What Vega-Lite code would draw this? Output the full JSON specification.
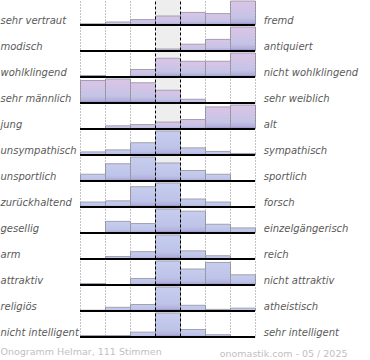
{
  "$schema": "https://vega.github.io/schema/vega-lite/v6.json",
  "padding": 0,
  "background": "white",
  "datasets": {
    "labels": [
      {"r": 1, "left": "sehr vertraut", "right": "fremd"},
      {"r": 2, "left": "modisch", "right": "antiquiert"},
      {"r": 3, "left": "wohlklingend", "right": "nicht wohlklingend"},
      {"r": 4, "left": "sehr männlich", "right": "sehr weiblich"},
      {"r": 5, "left": "\u00a0jung", "right": "alt"},
      {"r": 6, "left": "unsympathisch", "right": "sympathisch"},
      {"r": 7, "left": "unsportlich", "right": "sportlich"},
      {"r": 8, "left": "zurückhaltend", "right": "forsch"},
      {"r": 9, "left": "gesellig", "right": "einzelgängerisch"},
      {"r": 10, "left": "arm", "right": "reich"},
      {"r": 11, "left": "attraktiv", "right": "nicht attraktiv"},
      {"r": 12, "left": "religiös", "right": "atheistisch"},
      {"r": 13, "left": "nicht intelligent", "right": "sehr intelligent"}
    ]
  },
  "data": {
    "values": [
      {"r": 1, "c": 1, "n": 2}, {"r": 1, "c": 2, "n": 5}, {"r": 1, "c": 3, "n": 9}, {"r": 1, "c": 4, "n": 15}, {"r": 1, "c": 5, "n": 21}, {"r": 1, "c": 6, "n": 19}, {"r": 1, "c": 7, "n": 40},
      {"r": 2, "c": 1, "n": 0}, {"r": 2, "c": 2, "n": 0}, {"r": 2, "c": 3, "n": 0}, {"r": 2, "c": 4, "n": 5}, {"r": 2, "c": 5, "n": 17}, {"r": 2, "c": 6, "n": 29}, {"r": 2, "c": 7, "n": 60},
      {"r": 3, "c": 1, "n": 2}, {"r": 3, "c": 2, "n": 0}, {"r": 3, "c": 3, "n": 10}, {"r": 3, "c": 4, "n": 25}, {"r": 3, "c": 5, "n": 21}, {"r": 3, "c": 6, "n": 21}, {"r": 3, "c": 7, "n": 32},
      {"r": 4, "c": 1, "n": 30}, {"r": 4, "c": 2, "n": 32}, {"r": 4, "c": 3, "n": 27}, {"r": 4, "c": 4, "n": 17}, {"r": 4, "c": 5, "n": 5}, {"r": 4, "c": 6, "n": 0}, {"r": 4, "c": 7, "n": 0},
      {"r": 5, "c": 1, "n": 0}, {"r": 5, "c": 2, "n": 5}, {"r": 5, "c": 3, "n": 7}, {"r": 5, "c": 4, "n": 11}, {"r": 5, "c": 5, "n": 15}, {"r": 5, "c": 6, "n": 35}, {"r": 5, "c": 7, "n": 38},
      {"r": 6, "c": 1, "n": 6}, {"r": 6, "c": 2, "n": 10}, {"r": 6, "c": 3, "n": 24}, {"r": 6, "c": 4, "n": 47}, {"r": 6, "c": 5, "n": 14}, {"r": 6, "c": 6, "n": 7}, {"r": 6, "c": 7, "n": 3},
      {"r": 7, "c": 1, "n": 9}, {"r": 7, "c": 2, "n": 23}, {"r": 7, "c": 3, "n": 32}, {"r": 7, "c": 4, "n": 24}, {"r": 7, "c": 5, "n": 14}, {"r": 7, "c": 6, "n": 9}, {"r": 7, "c": 7, "n": 0},
      {"r": 8, "c": 1, "n": 8}, {"r": 8, "c": 2, "n": 10}, {"r": 8, "c": 3, "n": 33}, {"r": 8, "c": 4, "n": 39}, {"r": 8, "c": 5, "n": 13}, {"r": 8, "c": 6, "n": 8}, {"r": 8, "c": 7, "n": 0},
      {"r": 9, "c": 1, "n": 0}, {"r": 9, "c": 2, "n": 16}, {"r": 9, "c": 3, "n": 13}, {"r": 9, "c": 4, "n": 33}, {"r": 9, "c": 5, "n": 30}, {"r": 9, "c": 6, "n": 12}, {"r": 9, "c": 7, "n": 7},
      {"r": 10, "c": 1, "n": 0}, {"r": 10, "c": 2, "n": 6}, {"r": 10, "c": 3, "n": 18}, {"r": 10, "c": 4, "n": 59}, {"r": 10, "c": 5, "n": 20}, {"r": 10, "c": 6, "n": 8}, {"r": 10, "c": 7, "n": 0},
      {"r": 11, "c": 1, "n": 2}, {"r": 11, "c": 2, "n": 0}, {"r": 11, "c": 3, "n": 9}, {"r": 11, "c": 4, "n": 33}, {"r": 11, "c": 5, "n": 22}, {"r": 11, "c": 6, "n": 31}, {"r": 11, "c": 7, "n": 14},
      {"r": 12, "c": 1, "n": 2}, {"r": 12, "c": 2, "n": 9}, {"r": 12, "c": 3, "n": 16}, {"r": 12, "c": 4, "n": 59}, {"r": 12, "c": 5, "n": 14}, {"r": 12, "c": 6, "n": 4}, {"r": 12, "c": 7, "n": 7},
      {"r": 13, "c": 1, "n": 4}, {"r": 13, "c": 2, "n": 4}, {"r": 13, "c": 3, "n": 13}, {"r": 13, "c": 4, "n": 64}, {"r": 13, "c": 5, "n": 20}, {"r": 13, "c": 6, "n": 6}, {"r": 13, "c": 7, "n": 0}
    ]
  },
  "transform": [
    {"lookup": "r", "from": {"data": {"name": "labels"}, "key": "r", "fields": ["left", "right"]}}
  ],
  "title": {
    "text": "Onogramm Helmar, 111 Stimmen",
    "orient": "bottom",
    "anchor": "start",
    "frame": "bounds",
    "font": "DejaVu Sans",
    "fontSize": 9.5,
    "fontWeight": "normal",
    "color": "#c0c0c0",
    "baseline": "alphabetic",
    "offset": 0,
    "dy": -3
  },
  "facet": {"row": {"field": "r", "type": "ordinal", "header": null}},
  "spacing": 0,
  "resolve": {"scale": {"y": "independent"}},
  "spec": {
    "width": 175,
    "height": 26,
    "layer": [
      {
        "transform": [{"filter": "datum.c == 4"}],
        "mark": {"type": "rect", "fill": "#eeeeee"},
        "encoding": {
          "x": {"field": "c", "type": "quantitative", "bin": {"extent": [0.5, 7.5], "step": 1, "anchor": 0.5, "nice": false}, "scale": {"domain": [0.5, 7.5]}}
        }
      },
      {
        "mark": {"type": "bar", "binSpacing": 0, "stroke": "#a0a0b0", "strokeWidth": 1},
        "encoding": {
          "x": {
            "field": "c", "type": "quantitative",
            "bin": {"extent": [0.5, 7.5], "step": 1, "anchor": 0.5, "nice": false},
            "scale": {"domain": [0.5, 7.5]},
            "axis": {
              "values": [0.5, 1.5, 2.5, 3.5, 4.5, 5.5, 6.5, 7.5],
              "grid": true,
              "gridColor": {"condition": {"test": "datum.value == 3.5 || datum.value == 4.5", "value": "#000000"}, "value": "#888888"},
              "gridDash": {"condition": {"test": "datum.value == 3.5 || datum.value == 4.5", "value": [3, 2]}, "value": [1, 2]},
              "gridWidth": 1,
              "labels": false,
              "ticks": false,
              "domain": false,
              "zindex": 1,
              "title": "onomastik.com - 05 / 2025",
              "titleFont": "DejaVu Sans",
              "titleFontSize": 9.5,
              "titleFontWeight": "normal",
              "titleColor": "#c0c0c0",
              "titleX": 267,
              "titleY": 18,
              "titleAlign": "right",
              "titleBaseline": "alphabetic"
            }
          },
          "y": {"field": "n", "type": "quantitative", "axis": null, "scale": {"nice": false, "range": [25, 1]}},
          "fill": {
            "condition": {
              "test": "datum.r <= 5",
              "value": {"gradient": "linear", "x1": 0, "y1": 0, "x2": 0, "y2": 1, "stops": [
                {"offset": 0, "color": "#dcc4e6"}, {"offset": 0.7, "color": "#c4c4e6"}, {"offset": 0.9, "color": "#b2aedb"}, {"offset": 1, "color": "#8c7cb4"}]}
            },
            "value": {"gradient": "linear", "x1": 0, "y1": 0, "x2": 0, "y2": 1, "stops": [
              {"offset": 0, "color": "#c6cdee"}, {"offset": 0.7, "color": "#bec4e8"}, {"offset": 0.9, "color": "#b0b0dc"}, {"offset": 1, "color": "#8c7cb4"}]}
          }
        }
      },
      {
        "transform": [{"filter": "datum.c == 1"}],
        "mark": {"type": "rule", "stroke": "#000000", "strokeWidth": 2},
        "encoding": {
          "y": {"datum": 0, "type": "quantitative", "axis": null}
        }
      },
      {
        "transform": [{"filter": "datum.c == 1"}],
        "mark": {"type": "text", "align": "left", "baseline": "alphabetic", "dy": -1.5, "font": "DejaVu Sans", "fontStyle": "italic", "fontSize": 10, "fill": "#5a5a5a"},
        "encoding": {
          "x": {"datum": -2.68, "type": "quantitative"},
          "y": {"datum": 0, "type": "quantitative", "axis": null},
          "text": {"field": "left"}
        }
      },
      {
        "transform": [{"filter": "datum.c == 1"}],
        "mark": {"type": "text", "align": "left", "baseline": "alphabetic", "dy": -1.5, "font": "DejaVu Sans", "fontStyle": "italic", "fontSize": 10, "fill": "#5a5a5a"},
        "encoding": {
          "x": {"datum": 7.85, "type": "quantitative"},
          "y": {"datum": 0, "type": "quantitative", "axis": null},
          "text": {"field": "right"}
        }
      }
    ]
  },
  "config": {"view": {"stroke": null}, "font": "DejaVu Sans"}
}
